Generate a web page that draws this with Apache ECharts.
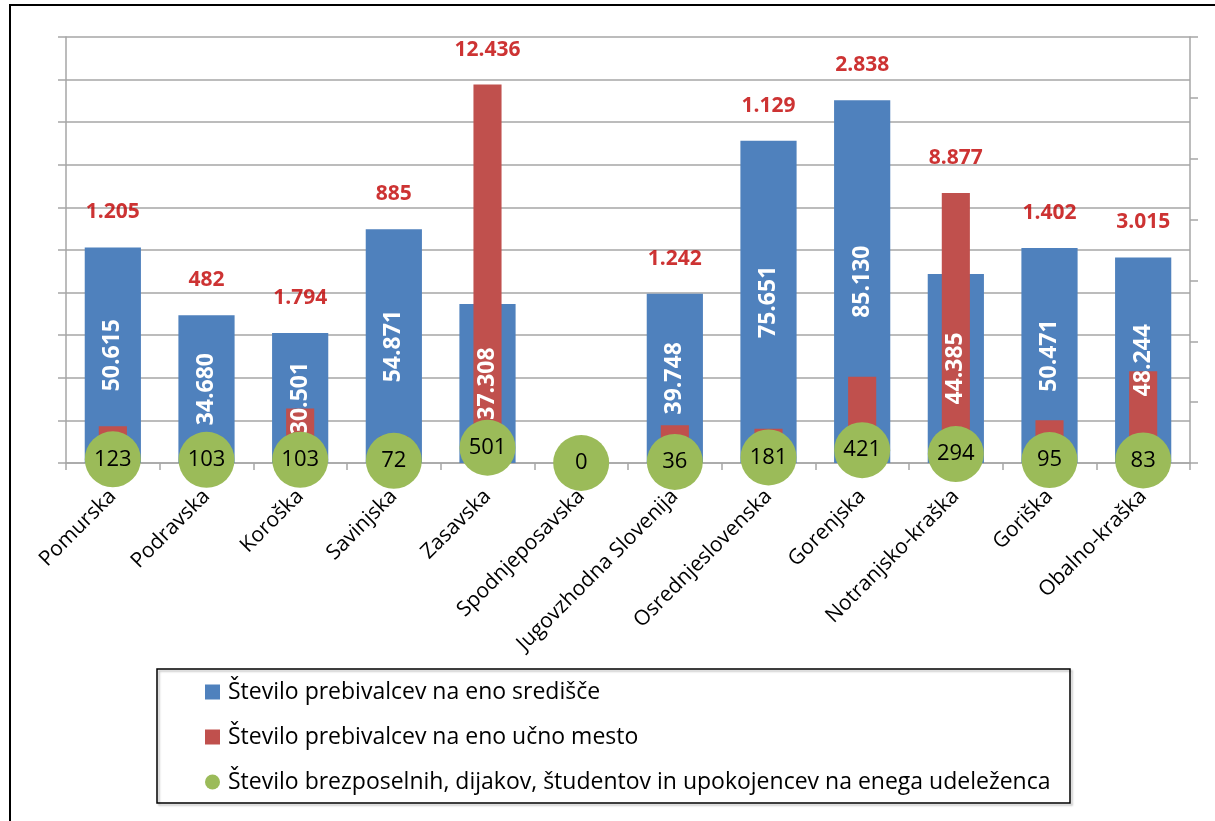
<!DOCTYPE html>
<html>
<head>
<meta charset="utf-8">
<script src="https://cdn.jsdelivr.net/npm/echarts@6/dist/echarts.min.js"></script>
<style>
  html, body { margin: 0; padding: 0; background: #ffffff; }
  #chart { width: 1215px; height: 821px; }
</style>
</head>
<body>
<div id="chart"></div>
<script>
// Regions of Slovenia
const categories = [
  'Pomurska', 'Podravska', 'Koroška', 'Savinjska', 'Zasavska', 'Spodnjeposavska',
  'Jugovzhodna Slovenija', 'Osrednjeslovenska', 'Gorenjska', 'Notranjsko-kraška',
  'Goriška', 'Obalno-kraška'
];
// Število prebivalcev na eno središče (left axis)
const residentsPerCentre = [50615, 34680, 30501, 54871, 37308, 0, 39748, 75651, 85130, 44385, 50471, 48244];
// Število prebivalcev na eno učno mesto (right axis)
const residentsPerPlace = [1205, 482, 1794, 885, 12436, 0, 1242, 1129, 2838, 8877, 1402, 3015];
// Število brezposelnih, dijakov, študentov in upokojencev na enega udeleženca (right axis)
const perParticipant = [123, 103, 103, 72, 501, 0, 36, 181, 421, 294, 95, 83];

// Axis ranges
const leftMax = 100000, leftStep = 10000;
const rightMax = 14000, rightStep = 2000;

const seriesNames = [
  'Število prebivalcev na eno središče',
  'Število prebivalcev na eno učno mesto',
  'Število brezposelnih, dijakov, študentov in upokojencev na enega udeleženca'
];

const FONT = '"Open Sans", "Noto Sans", sans-serif';
const GRID_COLOR = '#a6a6a6';

function fmt(v) {
  return String(v).replace(/\B(?=(\d{3})+(?!\d))/g, '.');
}

// Anchor for the red value labels: top of whichever bar is taller, in right-axis units
const labelAnchor = categories.map((_, i) =>
  Math.max(residentsPerPlace[i], residentsPerCentre[i] * rightMax / leftMax));

const chart = echarts.init(document.getElementById('chart'), null, { renderer: 'canvas' });

chart.setOption({
  animation: false,
  backgroundColor: '#ffffff',
  textStyle: { fontFamily: FONT },
  grid: { left: 66, right: 25, top: 37, bottom: 358, containLabel: false },
  xAxis: [
    {
      type: 'category',
      data: categories,
      axisLine: { show: true, lineStyle: { color: GRID_COLOR, width: 1.5 } },
      axisTick: { show: true, alignWithLabel: false, length: 7, lineStyle: { color: GRID_COLOR, width: 1.5 } },
      axisLabel: {
        rotate: 45, margin: 30, color: '#000000', fontSize: 21, fontFamily: FONT, interval: 0
      },
      splitLine: { show: false }
    },
    {
      type: 'category',
      data: categories,
      show: false
    }
  ],
  yAxis: [
    {
      type: 'value',
      min: 0, max: leftMax, interval: leftStep,
      axisLine: { show: true, lineStyle: { color: GRID_COLOR, width: 1.5 } },
      axisTick: { show: true, length: 8, lineStyle: { color: GRID_COLOR, width: 1.5 } },
      axisLabel: { show: false },
      splitLine: { show: true, lineStyle: { color: GRID_COLOR, width: 1.5 } }
    },
    {
      type: 'value',
      min: 0, max: rightMax, interval: rightStep,
      position: 'right',
      axisLine: { show: true, lineStyle: { color: GRID_COLOR, width: 1.5 } },
      axisTick: { show: true, length: 8, lineStyle: { color: GRID_COLOR, width: 1.5 } },
      axisLabel: { show: false },
      splitLine: { show: false }
    }
  ],
  legend: {
    orient: 'vertical',
    left: 205,
    top: 679,
    itemWidth: 15,
    itemHeight: 15,
    itemGap: 19,
    padding: 0,
    textStyle: { fontSize: 23, color: '#000000', fontFamily: FONT, lineHeight: 26, padding: [0, 0, 0, 3] },
    data: [
      { name: seriesNames[0], icon: 'rect' },
      { name: seriesNames[1], icon: 'rect' },
      { name: seriesNames[2], icon: 'circle' }
    ]
  },
  graphic: [
    {
      type: 'rect',
      shape: { x: 10, y: 5, width: 1230, height: 840 },
      style: { fill: 'none', stroke: '#000000', lineWidth: 2 },
      silent: true
    },
    {
      type: 'rect',
      shape: { x: 157, y: 669, width: 913, height: 134 },
      style: {
        fill: 'none', stroke: '#000000', lineWidth: 1.5,
        shadowColor: 'rgba(0,0,0,0.25)', shadowBlur: 2, shadowOffsetX: 2, shadowOffsetY: 2
      },
      silent: true
    }
  ],
  series: [
    {
      name: seriesNames[0],
      type: 'bar',
      xAxisIndex: 0,
      yAxisIndex: 0,
      barWidth: '60%',
      data: residentsPerCentre,
      itemStyle: { color: '#4F81BD' },
      label: {
        show: true,
        position: 'inside',
        rotate: 90,
        color: '#ffffff',
        fontWeight: 'bold',
        fontSize: 23,
        fontFamily: FONT,
        formatter: p => (p.value ? fmt(p.value) : '')
      },
      z: 2
    },
    {
      name: seriesNames[1],
      type: 'bar',
      xAxisIndex: 1,
      yAxisIndex: 1,
      barWidth: '30%',
      data: residentsPerPlace,
      itemStyle: { color: '#C0504D' },
      label: { show: false },
      z: 2
    },
    {
      name: 'redLabels',
      type: 'scatter',
      xAxisIndex: 0,
      yAxisIndex: 1,
      symbolSize: 1,
      itemStyle: { color: 'rgba(0,0,0,0)' },
      silent: true,
      data: labelAnchor,
      label: {
        show: true,
        position: 'top',
        distance: 24,
        color: '#C00000',
        fontWeight: 'bold',
        fontSize: 21,
        fontFamily: FONT,
        formatter: p => (residentsPerPlace[p.dataIndex] ? fmt(residentsPerPlace[p.dataIndex]) : '')
      },
      z: 5
    },
    {
      name: seriesNames[2],
      type: 'scatter',
      xAxisIndex: 0,
      yAxisIndex: 1,
      symbol: 'circle',
      symbolSize: 56,
      data: perParticipant,
      itemStyle: { color: '#9BBB59', opacity: 1 },
      label: {
        show: true,
        position: 'inside',
        color: '#000000',
        fontSize: 22,
        fontFamily: FONT,
        formatter: p => fmt(p.value)
      },
      z: 4
    }
  ]
});
</script>
</body>
</html>
